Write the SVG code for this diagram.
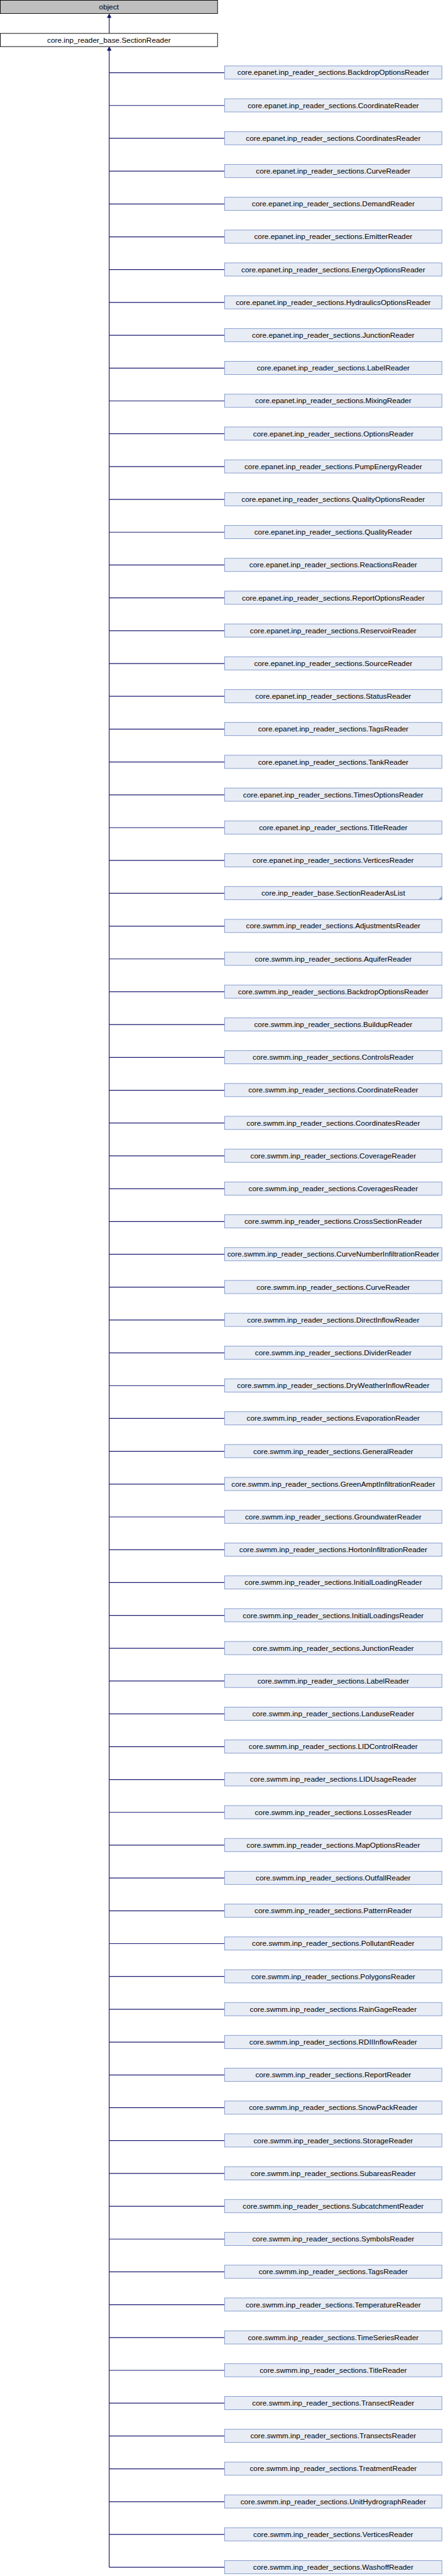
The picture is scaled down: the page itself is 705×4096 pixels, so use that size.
<svg xmlns="http://www.w3.org/2000/svg" width="705" height="4096" viewBox="0 0 705 4096">
<style>
.t{font-family:"Liberation Sans",Arial,sans-serif;font-size:12.7px;fill:#000;text-anchor:middle}
.c{fill:#e8ecf5;stroke:#7f98cb;stroke-width:1}
.e{fill:none;stroke:#191970;stroke-width:1.3}
.a{fill:#191970;stroke:#191970;stroke-width:1}
</style>
<rect width="705" height="4096" fill="#fff"/>
<g transform="scale(0.932)">
<g id="connectors">
<path class="e" d="M186.5,29V56.7M186.5,85V4380M186.5,124H383M186.5,180H383M186.5,236H383M186.5,292H383M186.5,348H383M186.5,404H383M186.5,460H383M186.5,516H383M186.5,572H383M186.5,628H383M186.5,684H383M186.5,740H383M186.5,796H383M186.5,852H383M186.5,908H383M186.5,964H383M186.5,1020H383M186.5,1076H383M186.5,1132H383M186.5,1188H383M186.5,1244H383M186.5,1300H383M186.5,1356H383M186.5,1412H383M186.5,1468H383M186.5,1524H383M186.5,1580H383M186.5,1636H383M186.5,1692H383M186.5,1748H383M186.5,1804H383M186.5,1860H383M186.5,1916H383M186.5,1972H383M186.5,2028H383M186.5,2084H383M186.5,2140H383M186.5,2196H383M186.5,2252H383M186.5,2308H383M186.5,2364H383M186.5,2420H383M186.5,2476H383M186.5,2532H383M186.5,2588H383M186.5,2644H383M186.5,2700H383M186.5,2756H383M186.5,2812H383M186.5,2868H383M186.5,2924H383M186.5,2980H383M186.5,3036H383M186.5,3092H383M186.5,3148H383M186.5,3204H383M186.5,3260H383M186.5,3316H383M186.5,3372H383M186.5,3428H383M186.5,3484H383M186.5,3540H383M186.5,3596H383M186.5,3652H383M186.5,3708H383M186.5,3764H383M186.5,3820H383M186.5,3876H383M186.5,3932H383M186.5,3988H383M186.5,4044H383M186.5,4100H383M186.5,4156H383M186.5,4212H383M186.5,4268H383M186.5,4324H383M186.5,4380H383"/>
<polygon class="a" points="186.5,24 183.3,30 189.7,30"/>
<polygon class="a" points="186.5,80 183.3,86 189.7,86"/>
</g>
<g id="object"><rect x="0.5" y="0.5" width="371" height="22.5" fill="#bfbfbf" stroke="#000" stroke-width="1"/><text class="t" x="186" y="16.3">object</text></g>
<g id="SectionReader"><rect x="0.5" y="57" width="371" height="22.5" fill="#fff" stroke="#000" stroke-width="1"/><text class="t" x="186" y="72.8">core.inp_reader_base.SectionReader</text></g>
<g id="n0" transform="translate(0,112)"><rect class="c" x="383.5" y="0.5" width="371" height="22.5"/><text class="t" x="569" y="16.2">core.epanet.inp_reader_sections.BackdropOptionsReader</text></g>
<g id="n1" transform="translate(0,168)"><rect class="c" x="383.5" y="0.5" width="371" height="22.5"/><text class="t" x="569" y="16.2">core.epanet.inp_reader_sections.CoordinateReader</text></g>
<g id="n2" transform="translate(0,224)"><rect class="c" x="383.5" y="0.5" width="371" height="22.5"/><text class="t" x="569" y="16.2">core.epanet.inp_reader_sections.CoordinatesReader</text></g>
<g id="n3" transform="translate(0,280)"><rect class="c" x="383.5" y="0.5" width="371" height="22.5"/><text class="t" x="569" y="16.2">core.epanet.inp_reader_sections.CurveReader</text></g>
<g id="n4" transform="translate(0,336)"><rect class="c" x="383.5" y="0.5" width="371" height="22.5"/><text class="t" x="569" y="16.2">core.epanet.inp_reader_sections.DemandReader</text></g>
<g id="n5" transform="translate(0,392)"><rect class="c" x="383.5" y="0.5" width="371" height="22.5"/><text class="t" x="569" y="16.2">core.epanet.inp_reader_sections.EmitterReader</text></g>
<g id="n6" transform="translate(0,448)"><rect class="c" x="383.5" y="0.5" width="371" height="22.5"/><text class="t" x="569" y="16.2">core.epanet.inp_reader_sections.EnergyOptionsReader</text></g>
<g id="n7" transform="translate(0,504)"><rect class="c" x="383.5" y="0.5" width="371" height="22.5"/><text class="t" x="569" y="16.2">core.epanet.inp_reader_sections.HydraulicsOptionsReader</text></g>
<g id="n8" transform="translate(0,560)"><rect class="c" x="383.5" y="0.5" width="371" height="22.5"/><text class="t" x="569" y="16.2">core.epanet.inp_reader_sections.JunctionReader</text></g>
<g id="n9" transform="translate(0,616)"><rect class="c" x="383.5" y="0.5" width="371" height="22.5"/><text class="t" x="569" y="16.2">core.epanet.inp_reader_sections.LabelReader</text></g>
<g id="n10" transform="translate(0,672)"><rect class="c" x="383.5" y="0.5" width="371" height="22.5"/><text class="t" x="569" y="16.2">core.epanet.inp_reader_sections.MixingReader</text></g>
<g id="n11" transform="translate(0,728)"><rect class="c" x="383.5" y="0.5" width="371" height="22.5"/><text class="t" x="569" y="16.2">core.epanet.inp_reader_sections.OptionsReader</text></g>
<g id="n12" transform="translate(0,784)"><rect class="c" x="383.5" y="0.5" width="371" height="22.5"/><text class="t" x="569" y="16.2">core.epanet.inp_reader_sections.PumpEnergyReader</text></g>
<g id="n13" transform="translate(0,840)"><rect class="c" x="383.5" y="0.5" width="371" height="22.5"/><text class="t" x="569" y="16.2">core.epanet.inp_reader_sections.QualityOptionsReader</text></g>
<g id="n14" transform="translate(0,896)"><rect class="c" x="383.5" y="0.5" width="371" height="22.5"/><text class="t" x="569" y="16.2">core.epanet.inp_reader_sections.QualityReader</text></g>
<g id="n15" transform="translate(0,952)"><rect class="c" x="383.5" y="0.5" width="371" height="22.5"/><text class="t" x="569" y="16.2">core.epanet.inp_reader_sections.ReactionsReader</text></g>
<g id="n16" transform="translate(0,1008)"><rect class="c" x="383.5" y="0.5" width="371" height="22.5"/><text class="t" x="569" y="16.2">core.epanet.inp_reader_sections.ReportOptionsReader</text></g>
<g id="n17" transform="translate(0,1064)"><rect class="c" x="383.5" y="0.5" width="371" height="22.5"/><text class="t" x="569" y="16.2">core.epanet.inp_reader_sections.ReservoirReader</text></g>
<g id="n18" transform="translate(0,1120)"><rect class="c" x="383.5" y="0.5" width="371" height="22.5"/><text class="t" x="569" y="16.2">core.epanet.inp_reader_sections.SourceReader</text></g>
<g id="n19" transform="translate(0,1176)"><rect class="c" x="383.5" y="0.5" width="371" height="22.5"/><text class="t" x="569" y="16.2">core.epanet.inp_reader_sections.StatusReader</text></g>
<g id="n20" transform="translate(0,1232)"><rect class="c" x="383.5" y="0.5" width="371" height="22.5"/><text class="t" x="569" y="16.2">core.epanet.inp_reader_sections.TagsReader</text></g>
<g id="n21" transform="translate(0,1288)"><rect class="c" x="383.5" y="0.5" width="371" height="22.5"/><text class="t" x="569" y="16.2">core.epanet.inp_reader_sections.TankReader</text></g>
<g id="n22" transform="translate(0,1344)"><rect class="c" x="383.5" y="0.5" width="371" height="22.5"/><text class="t" x="569" y="16.2">core.epanet.inp_reader_sections.TimesOptionsReader</text></g>
<g id="n23" transform="translate(0,1400)"><rect class="c" x="383.5" y="0.5" width="371" height="22.5"/><text class="t" x="569" y="16.2">core.epanet.inp_reader_sections.TitleReader</text></g>
<g id="n24" transform="translate(0,1456)"><rect class="c" x="383.5" y="0.5" width="371" height="22.5"/><text class="t" x="569" y="16.2">core.epanet.inp_reader_sections.VerticesReader</text></g>
<g id="n25" transform="translate(0,1512)"><rect class="c" x="383.5" y="0.5" width="371" height="22.5"/><polygon points="754.5,17 754.5,23 748.5,23" fill="#7f98cb"/><text class="t" x="569" y="16.2">core.inp_reader_base.SectionReaderAsList</text></g>
<g id="n26" transform="translate(0,1568)"><rect class="c" x="383.5" y="0.5" width="371" height="22.5"/><text class="t" x="569" y="16.2">core.swmm.inp_reader_sections.AdjustmentsReader</text></g>
<g id="n27" transform="translate(0,1624)"><rect class="c" x="383.5" y="0.5" width="371" height="22.5"/><text class="t" x="569" y="16.2">core.swmm.inp_reader_sections.AquiferReader</text></g>
<g id="n28" transform="translate(0,1680)"><rect class="c" x="383.5" y="0.5" width="371" height="22.5"/><text class="t" x="569" y="16.2">core.swmm.inp_reader_sections.BackdropOptionsReader</text></g>
<g id="n29" transform="translate(0,1736)"><rect class="c" x="383.5" y="0.5" width="371" height="22.5"/><text class="t" x="569" y="16.2">core.swmm.inp_reader_sections.BuildupReader</text></g>
<g id="n30" transform="translate(0,1792)"><rect class="c" x="383.5" y="0.5" width="371" height="22.5"/><text class="t" x="569" y="16.2">core.swmm.inp_reader_sections.ControlsReader</text></g>
<g id="n31" transform="translate(0,1848)"><rect class="c" x="383.5" y="0.5" width="371" height="22.5"/><text class="t" x="569" y="16.2">core.swmm.inp_reader_sections.CoordinateReader</text></g>
<g id="n32" transform="translate(0,1904)"><rect class="c" x="383.5" y="0.5" width="371" height="22.5"/><text class="t" x="569" y="16.2">core.swmm.inp_reader_sections.CoordinatesReader</text></g>
<g id="n33" transform="translate(0,1960)"><rect class="c" x="383.5" y="0.5" width="371" height="22.5"/><text class="t" x="569" y="16.2">core.swmm.inp_reader_sections.CoverageReader</text></g>
<g id="n34" transform="translate(0,2016)"><rect class="c" x="383.5" y="0.5" width="371" height="22.5"/><text class="t" x="569" y="16.2">core.swmm.inp_reader_sections.CoveragesReader</text></g>
<g id="n35" transform="translate(0,2072)"><rect class="c" x="383.5" y="0.5" width="371" height="22.5"/><text class="t" x="569" y="16.2">core.swmm.inp_reader_sections.CrossSectionReader</text></g>
<g id="n36" transform="translate(0,2128)"><rect class="c" x="383.5" y="0.5" width="371" height="22.5"/><text class="t" x="569" y="16.2">core.swmm.inp_reader_sections.CurveNumberInfiltrationReader</text></g>
<g id="n37" transform="translate(0,2184)"><rect class="c" x="383.5" y="0.5" width="371" height="22.5"/><text class="t" x="569" y="16.2">core.swmm.inp_reader_sections.CurveReader</text></g>
<g id="n38" transform="translate(0,2240)"><rect class="c" x="383.5" y="0.5" width="371" height="22.5"/><text class="t" x="569" y="16.2">core.swmm.inp_reader_sections.DirectInflowReader</text></g>
<g id="n39" transform="translate(0,2296)"><rect class="c" x="383.5" y="0.5" width="371" height="22.5"/><text class="t" x="569" y="16.2">core.swmm.inp_reader_sections.DividerReader</text></g>
<g id="n40" transform="translate(0,2352)"><rect class="c" x="383.5" y="0.5" width="371" height="22.5"/><text class="t" x="569" y="16.2">core.swmm.inp_reader_sections.DryWeatherInflowReader</text></g>
<g id="n41" transform="translate(0,2408)"><rect class="c" x="383.5" y="0.5" width="371" height="22.5"/><text class="t" x="569" y="16.2">core.swmm.inp_reader_sections.EvaporationReader</text></g>
<g id="n42" transform="translate(0,2464)"><rect class="c" x="383.5" y="0.5" width="371" height="22.5"/><text class="t" x="569" y="16.2">core.swmm.inp_reader_sections.GeneralReader</text></g>
<g id="n43" transform="translate(0,2520)"><rect class="c" x="383.5" y="0.5" width="371" height="22.5"/><text class="t" x="569" y="16.2">core.swmm.inp_reader_sections.GreenAmptInfiltrationReader</text></g>
<g id="n44" transform="translate(0,2576)"><rect class="c" x="383.5" y="0.5" width="371" height="22.5"/><text class="t" x="569" y="16.2">core.swmm.inp_reader_sections.GroundwaterReader</text></g>
<g id="n45" transform="translate(0,2632)"><rect class="c" x="383.5" y="0.5" width="371" height="22.5"/><text class="t" x="569" y="16.2">core.swmm.inp_reader_sections.HortonInfiltrationReader</text></g>
<g id="n46" transform="translate(0,2688)"><rect class="c" x="383.5" y="0.5" width="371" height="22.5"/><text class="t" x="569" y="16.2">core.swmm.inp_reader_sections.InitialLoadingReader</text></g>
<g id="n47" transform="translate(0,2744)"><rect class="c" x="383.5" y="0.5" width="371" height="22.5"/><text class="t" x="569" y="16.2">core.swmm.inp_reader_sections.InitialLoadingsReader</text></g>
<g id="n48" transform="translate(0,2800)"><rect class="c" x="383.5" y="0.5" width="371" height="22.5"/><text class="t" x="569" y="16.2">core.swmm.inp_reader_sections.JunctionReader</text></g>
<g id="n49" transform="translate(0,2856)"><rect class="c" x="383.5" y="0.5" width="371" height="22.5"/><text class="t" x="569" y="16.2">core.swmm.inp_reader_sections.LabelReader</text></g>
<g id="n50" transform="translate(0,2912)"><rect class="c" x="383.5" y="0.5" width="371" height="22.5"/><text class="t" x="569" y="16.2">core.swmm.inp_reader_sections.LanduseReader</text></g>
<g id="n51" transform="translate(0,2968)"><rect class="c" x="383.5" y="0.5" width="371" height="22.5"/><text class="t" x="569" y="16.2">core.swmm.inp_reader_sections.LIDControlReader</text></g>
<g id="n52" transform="translate(0,3024)"><rect class="c" x="383.5" y="0.5" width="371" height="22.5"/><text class="t" x="569" y="16.2">core.swmm.inp_reader_sections.LIDUsageReader</text></g>
<g id="n53" transform="translate(0,3080)"><rect class="c" x="383.5" y="0.5" width="371" height="22.5"/><text class="t" x="569" y="16.2">core.swmm.inp_reader_sections.LossesReader</text></g>
<g id="n54" transform="translate(0,3136)"><rect class="c" x="383.5" y="0.5" width="371" height="22.5"/><text class="t" x="569" y="16.2">core.swmm.inp_reader_sections.MapOptionsReader</text></g>
<g id="n55" transform="translate(0,3192)"><rect class="c" x="383.5" y="0.5" width="371" height="22.5"/><text class="t" x="569" y="16.2">core.swmm.inp_reader_sections.OutfallReader</text></g>
<g id="n56" transform="translate(0,3248)"><rect class="c" x="383.5" y="0.5" width="371" height="22.5"/><text class="t" x="569" y="16.2">core.swmm.inp_reader_sections.PatternReader</text></g>
<g id="n57" transform="translate(0,3304)"><rect class="c" x="383.5" y="0.5" width="371" height="22.5"/><text class="t" x="569" y="16.2">core.swmm.inp_reader_sections.PollutantReader</text></g>
<g id="n58" transform="translate(0,3360)"><rect class="c" x="383.5" y="0.5" width="371" height="22.5"/><text class="t" x="569" y="16.2">core.swmm.inp_reader_sections.PolygonsReader</text></g>
<g id="n59" transform="translate(0,3416)"><rect class="c" x="383.5" y="0.5" width="371" height="22.5"/><text class="t" x="569" y="16.2">core.swmm.inp_reader_sections.RainGageReader</text></g>
<g id="n60" transform="translate(0,3472)"><rect class="c" x="383.5" y="0.5" width="371" height="22.5"/><text class="t" x="569" y="16.2">core.swmm.inp_reader_sections.RDIIInflowReader</text></g>
<g id="n61" transform="translate(0,3528)"><rect class="c" x="383.5" y="0.5" width="371" height="22.5"/><text class="t" x="569" y="16.2">core.swmm.inp_reader_sections.ReportReader</text></g>
<g id="n62" transform="translate(0,3584)"><rect class="c" x="383.5" y="0.5" width="371" height="22.5"/><text class="t" x="569" y="16.2">core.swmm.inp_reader_sections.SnowPackReader</text></g>
<g id="n63" transform="translate(0,3640)"><rect class="c" x="383.5" y="0.5" width="371" height="22.5"/><text class="t" x="569" y="16.2">core.swmm.inp_reader_sections.StorageReader</text></g>
<g id="n64" transform="translate(0,3696)"><rect class="c" x="383.5" y="0.5" width="371" height="22.5"/><text class="t" x="569" y="16.2">core.swmm.inp_reader_sections.SubareasReader</text></g>
<g id="n65" transform="translate(0,3752)"><rect class="c" x="383.5" y="0.5" width="371" height="22.5"/><text class="t" x="569" y="16.2">core.swmm.inp_reader_sections.SubcatchmentReader</text></g>
<g id="n66" transform="translate(0,3808)"><rect class="c" x="383.5" y="0.5" width="371" height="22.5"/><text class="t" x="569" y="16.2">core.swmm.inp_reader_sections.SymbolsReader</text></g>
<g id="n67" transform="translate(0,3864)"><rect class="c" x="383.5" y="0.5" width="371" height="22.5"/><text class="t" x="569" y="16.2">core.swmm.inp_reader_sections.TagsReader</text></g>
<g id="n68" transform="translate(0,3920)"><rect class="c" x="383.5" y="0.5" width="371" height="22.5"/><text class="t" x="569" y="16.2">core.swmm.inp_reader_sections.TemperatureReader</text></g>
<g id="n69" transform="translate(0,3976)"><rect class="c" x="383.5" y="0.5" width="371" height="22.5"/><text class="t" x="569" y="16.2">core.swmm.inp_reader_sections.TimeSeriesReader</text></g>
<g id="n70" transform="translate(0,4032)"><rect class="c" x="383.5" y="0.5" width="371" height="22.5"/><text class="t" x="569" y="16.2">core.swmm.inp_reader_sections.TitleReader</text></g>
<g id="n71" transform="translate(0,4088)"><rect class="c" x="383.5" y="0.5" width="371" height="22.5"/><text class="t" x="569" y="16.2">core.swmm.inp_reader_sections.TransectReader</text></g>
<g id="n72" transform="translate(0,4144)"><rect class="c" x="383.5" y="0.5" width="371" height="22.5"/><text class="t" x="569" y="16.2">core.swmm.inp_reader_sections.TransectsReader</text></g>
<g id="n73" transform="translate(0,4200)"><rect class="c" x="383.5" y="0.5" width="371" height="22.5"/><text class="t" x="569" y="16.2">core.swmm.inp_reader_sections.TreatmentReader</text></g>
<g id="n74" transform="translate(0,4256)"><rect class="c" x="383.5" y="0.5" width="371" height="22.5"/><text class="t" x="569" y="16.2">core.swmm.inp_reader_sections.UnitHydrographReader</text></g>
<g id="n75" transform="translate(0,4312)"><rect class="c" x="383.5" y="0.5" width="371" height="22.5"/><text class="t" x="569" y="16.2">core.swmm.inp_reader_sections.VerticesReader</text></g>
<g id="n76" transform="translate(0,4368)"><rect class="c" x="383.5" y="0.5" width="371" height="22.5"/><text class="t" x="569" y="16.2">core.swmm.inp_reader_sections.WashoffReader</text></g>
</g>
</svg>
